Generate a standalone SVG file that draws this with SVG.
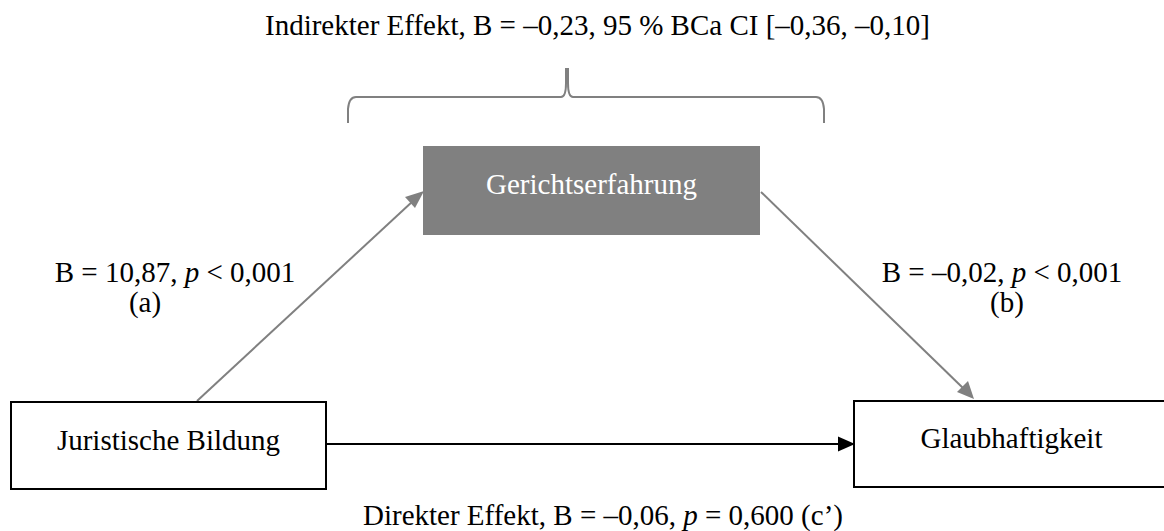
<svg xmlns="http://www.w3.org/2000/svg" width="1164" height="531" viewBox="0 0 1164 531">
<defs>
<style>
text{font-family:"Liberation Serif","Times New Roman",serif;font-size:29px;fill:#000;}
.c{text-anchor:middle;}
.w{fill:#fff;}
.box{fill:#fff;stroke:#000;stroke-width:2;}
.gbox{fill:#808080;stroke:none;}
.ga{stroke:#808080;stroke-width:2;fill:none;}
.ba{stroke:#000;stroke-width:2;fill:none;}
.gh{fill:#808080;}
</style>
</defs>
<rect width="1164" height="531" fill="#fff"/>
<g id="connectors">
<path class="ga" d="M197,401 L413,201"/>
<path class="gh" d="M424,191 L405,197 L415,208 z"/>
<path class="ga" d="M761,192 L963,388"/>
<path class="gh" d="M974,399 L968,381 L957,392 z"/>
<path class="ba" d="M327,444 L840,444"/>
<path d="M855,444 L838,436.5 L838,451.5 z" fill="#000"/>
</g>
<g id="brace">
<path class="ga" d="M348,123 L348,109 Q349,97 356,97 L561,97 Q566,97 566,83 L566,68 M568,68 L568,83 Q568,97 573,97 L816,97 Q823,97 824,109 L824,123"/>
</g>
<g id="node-gericht">
<rect class="gbox" x="423" y="146" width="337" height="89"/>
<text class="c w" x="591.5" y="194">Gerichtserfahrung</text>
</g>
<g id="node-jur">
<rect class="box" x="11" y="402" width="315" height="87"/>
<text class="c" x="168.5" y="450">Juristische Bildung</text>
</g>
<g id="node-glaub">
<rect class="box" x="854" y="401" width="315" height="86"/>
<text class="c" x="1011.5" y="448">Glaubhaftigkeit</text>
</g>
<g id="labels">
<text x="265" y="35">Indirekter Effekt, B = –0,23, 95 % BCa CI [–0,36, –0,10]</text>
<text class="c" x="175" y="282">B = 10,87, <tspan font-style="italic">p</tspan> &lt; 0,001</text>
<text class="c" x="145" y="312">(a)</text>
<text class="c" x="1002" y="282">B = –0,02, <tspan font-style="italic">p</tspan> &lt; 0,001</text>
<text class="c" x="1007" y="312">(b)</text>
<text x="363" y="525">Direkter Effekt, B = –0,06, <tspan font-style="italic">p</tspan> = 0,600 (c’)</text>
</g>
</svg>
